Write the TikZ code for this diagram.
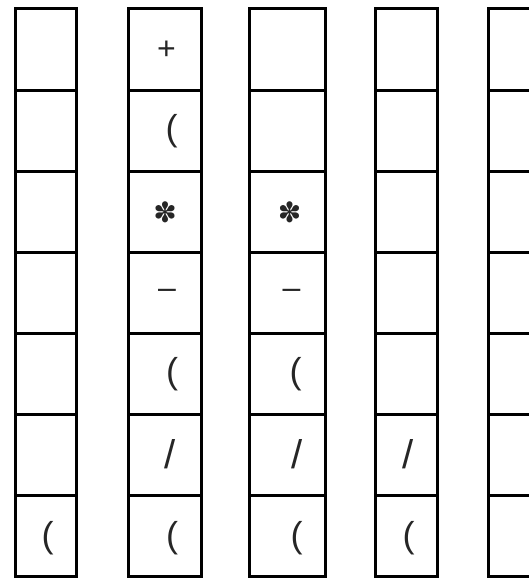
\documentclass[tikz,border=0pt]{standalone}
\usepackage{fontspec}
\setmainfont{Liberation Sans}
\newfontfamily\symfont{DejaVu Sans}
\tikzset{
  cell/.style={draw=black, line width=3pt, rectangle, inner sep=0pt,
    minimum height=81.14pt},
  sym/.style={inner sep=0pt, text=black!85},
  plus/.style={sym, font=\fontsize{32}{32}\selectfont},
  par/.style={sym, font=\fontsize{36}{36}\selectfont},
  flow/.style={sym, font=\symfont\fontsize{28}{28}\selectfont},
  minus/.style={sym, font=\fontsize{32}{32}\selectfont},
  slash/.style={sym, font=\fontsize{40}{40}\selectfont}
}
\begin{document}
\begin{tikzpicture}[x=1pt,y=-1pt]
\useasboundingbox (0,0) rectangle (529,578);
\fill[white] (0,0) rectangle (529,578);
\clip (0,0) rectangle (529,578);
\foreach \c/\l/\r in {1/15/76, 2/128/201, 3/249/325, 4/375/437, 5/488/560}{
  \foreach \rw in {1,...,7}{
    \node[cell, minimum width={(\r-\l)*1pt}] (c\c-\rw)
      at ({(\l+\r)/2}, {9+81.14*(\rw-0.5)}) {};
  }
}
% column 2
\node[plus]  (s2-1) at (166.5,50)   {+};
\node[par]   (s2-2) at (171.5,131)  {(};
\node[flow]  (s2-3) at (165,212)    {✽};
\node[minus] (s2-4) at (167,294)    {–};
\node[par]   (s2-5) at (172,374)    {(};
\node[slash] (s2-6) at (170,454)    {/};
\node[par]   (s2-7) at (172,538)    {(};
% column 3
\node[flow]  (s3-3) at (289.5,212)  {✽};
\node[minus] (s3-4) at (291.5,294)  {–};
\node[par]   (s3-5) at (295.5,374)  {(};
\node[slash] (s3-6) at (297,454)    {/};
\node[par]   (s3-7) at (296.5,538)  {(};
% column 4
\node[slash] (s4-6) at (408,454)    {/};
\node[par]   (s4-7) at (408.5,538)  {(};
% column 1
\node[par]   (s1-7) at (47.5,538)   {(};
\end{tikzpicture}
\end{document}
